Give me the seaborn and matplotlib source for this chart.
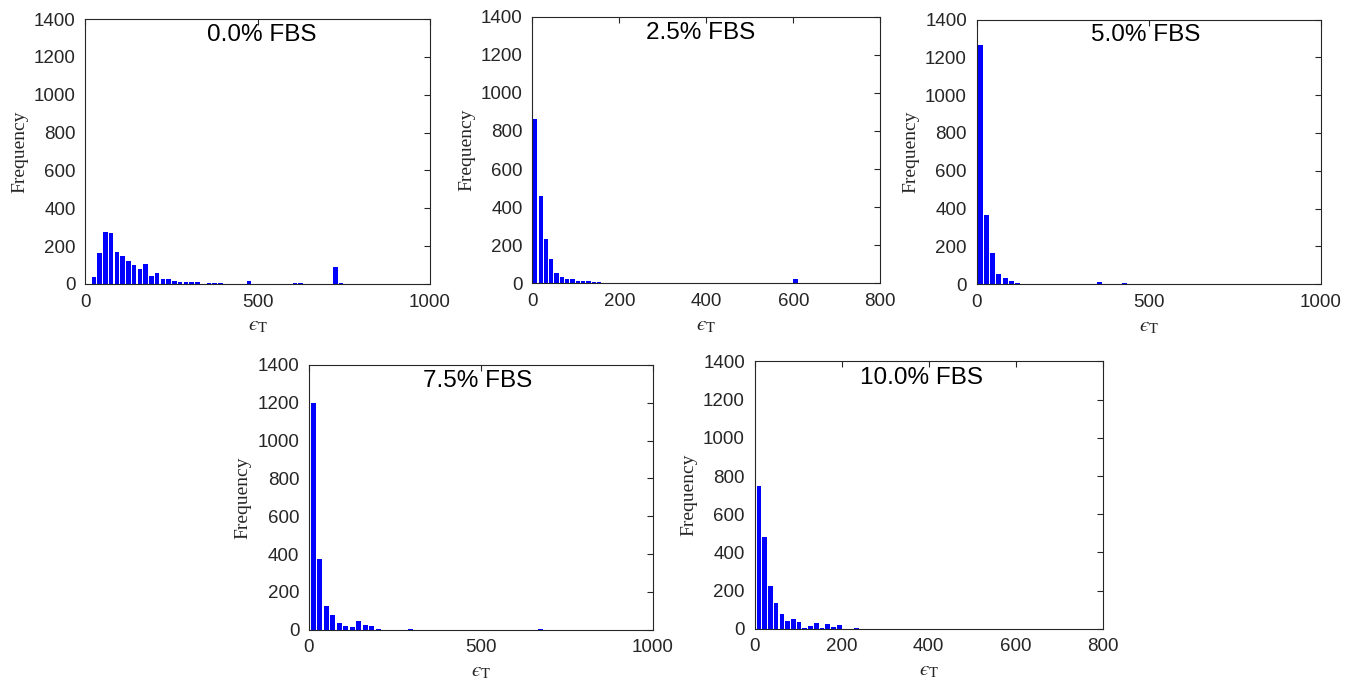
import numpy as np
import pandas as pd
import matplotlib
matplotlib.use("Agg")
import matplotlib.pyplot as plt
import seaborn as sns

# ---------------- data ----------------
titles = ["0.0% FBS", "2.5% FBS", "5.0% FBS", "7.5% FBS", "10.0% FBS"]
x_max = [1000, 800, 1000, 1000, 800]
x_ticks = [[0, 500, 1000], [0, 200, 400, 600, 800], [0, 500, 1000],
           [0, 500, 1000], [0, 200, 400, 600, 800]]
y_ticks = [0, 200, 400, 600, 800, 1000, 1200, 1400]

# histogram bin layout for each panel: first bin centre and bin width
bin_first = [8.3, 7.0, 9.7, 12.6, 9.5]
bin_width = [16.67, 12.2, 18.3, 18.9, 13.2]

counts_00 = [0, 37, 164, 273, 269, 171, 148, 120, 100, 81,
             107, 40, 58, 25, 25, 15, 9, 9, 9, 9,
             1, 7, 7, 7, 0, 0, 1, 2, 14, 0,
             0, 0, 0, 0, 0, 0, 3, 4, 0, 0,
             0, 0, 0, 92, 3]
counts_25 = [865, 458, 234, 126, 56, 35, 24, 21, 10, 12,
             12, 9, 5, 2, 1, 3, 0, 4, 0, 1,
             0, 0, 0, 0, 0, 0, 0, 0, 0, 3,
             0, 0, 0, 0, 0, 0, 0, 0, 0, 0,
             0, 0, 0, 0, 0, 0, 0, 0, 0, 23]
counts_50 = [1265, 365, 167, 55, 35, 18, 7, 2, 3, 3,
             0, 0, 0, 0, 0, 0, 0, 0, 0, 10,
             0, 0, 0, 5]
counts_75 = [1200, 373, 125, 78, 35, 19, 16, 44, 26, 21,
             4, 1, 0, 0, 0, 6, 0, 0, 0, 0,
             0, 0, 0, 0, 0, 0, 0, 0, 0, 0,
             0, 0, 0, 0, 0, 3, 0, 0, 0, 0,
             1]
counts_100 = [748, 480, 222, 134, 77, 40, 51, 33, 5, 14,
              30, 2, 24, 9, 17, 1, 1, 3, 0, 1,
              0, 0, 0, 1, 0, 1, 0, 0, 1, 0,
              1, 0, 0, 0, 1, 0, 0, 0, 0, 0,
              1, 0, 0, 0, 0, 1, 0, 0, 1]
all_counts = [counts_00, counts_25, counts_50, counts_75, counts_100]

# ---------------- layout / style ----------------
sns.set_style("white")
plt.rcParams["font.family"] = ["Liberation Sans", "DejaVu Sans"]
plt.rcParams["mathtext.fontset"] = "stix"

W, H = 1355, 692
fig = plt.figure(figsize=(W / 100, H / 100), dpi=100)

# axes boxes in pixels: left, top, right, bottom
boxes = [(85.3, 19.0, 430.0, 284.0),
         (532.3, 16.6, 880.3, 283.3),
         (976.7, 19.5, 1320.7, 284.3),
         (309.0, 364.9, 652.7, 629.7),
         (754.7, 361.5, 1102.7, 628.7)]
title_x = [0.513, 0.484, 0.491, 0.49, 0.48]

edge = "#262626"
xlab = "$\u03f5_{\\mathrm{T}}$"
for i, (l, t, r, b) in enumerate(boxes):
    ax = fig.add_axes([l / W, 1 - b / H, (r - l) / W, (b - t) / H])
    counts = np.array(all_counts[i])
    centers = bin_first[i] + bin_width[i] * np.arange(len(counts))
    df = pd.DataFrame({"x": centers, "count": counts})
    sns.barplot(data=df, x="x", y="count", native_scale=True, width=0.8,
                color="#0000ff", saturation=1, errorbar=None, linewidth=0,
                ax=ax)
    ax.set_xlim(0, x_max[i])
    ax.set_ylim(0, 1400)
    ax.set_xticks(x_ticks[i])
    ax.set_yticks(y_ticks)
    ax.tick_params(direction="in", length=4, width=0.8, top=True, right=True,
                   labelsize=13.5, pad=7, color=edge, labelcolor=edge)
    for s in ax.spines.values():
        s.set_visible(True)
        s.set_linewidth(0.8)
        s.set_color(edge)
    ax.set_ylabel("Frequency", fontfamily="Liberation Serif", fontsize=14,
                  color=edge)
    ax.set_xlabel(xlab, fontsize=15, color=edge)
    ax.text(title_x[i], 0.94, titles[i], transform=ax.transAxes,
            ha="center", va="center", fontsize=17.5, color="black")

fig.savefig("out.png", dpi=100)
